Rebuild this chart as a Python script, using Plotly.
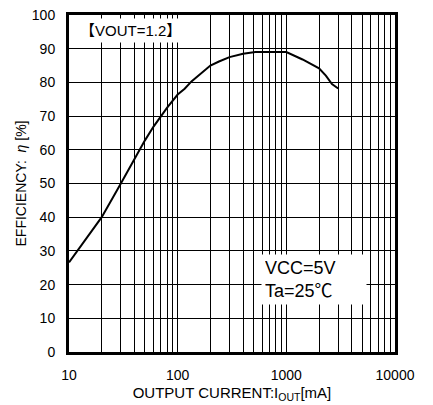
import plotly.graph_objects as go

# Data
current_ma = [10, 20, 30, 40, 50, 60, 70, 80, 100, 116, 134, 200, 240, 300, 400, 520,
              1000, 1410, 2000, 2310, 2630, 3000]
efficiency = [26.6, 40, 50, 57.4, 62.8, 66.9, 70, 72.5, 76.4, 78.1, 80.3, 85, 86.2, 87.5,
              88.5, 89, 89, 86.8, 84.2, 82, 79.5, 78.2]

decades = [10, 100, 1000, 10000]
y_ticks = list(range(0, 101, 10))

x_tickvals = []
x_ticktext = []
for d in decades[:-1]:
    for m in range(1, 10):
        v = d * m
        x_tickvals.append(v)
        x_ticktext.append(str(v) if m == 1 else "")
x_tickvals.append(decades[-1])
x_ticktext.append(str(decades[-1]))

FONT = "Liberation Sans, Arial, Noto Sans CJK JP, sans-serif"

fig = go.Figure()
fig.add_trace(go.Scatter(
    x=current_ma, y=efficiency, mode="lines",
    line=dict(color="black", width=2),
    showlegend=False, hoverinfo="skip",
))

fig.update_layout(
    width=433, height=405,
    margin=dict(l=69, r=38, t=15, b=53, autoexpand=False),
    paper_bgcolor="white", plot_bgcolor="white",
    font=dict(family=FONT, color="black", size=14),
    xaxis=dict(
        type="log", range=[1, 4], automargin=False,
        tickvals=x_tickvals, ticktext=x_ticktext, tickangle=0,
        showgrid=True, gridcolor="black", gridwidth=1,
        showline=True, linecolor="black", linewidth=3, mirror=True,
        ticks="", ticklabelstandoff=8,
        tickfont=dict(size=14, color="black"),
        zeroline=False,
        title=dict(text="OUTPUT CURRENT:I<sub>OUT</sub>[mA]",
                   font=dict(size=15, color="black"), standoff=6),
    ),
    yaxis=dict(
        range=[0, 100], tickvals=y_ticks, automargin=False,
        showgrid=True, gridcolor="black", gridwidth=1,
        showline=True, linecolor="black", linewidth=3, mirror=True,
        ticks="", ticklabelstandoff=8,
        tickfont=dict(size=14, color="black"),
        zeroline=False,
        title=dict(text="EFFICIENCY:  <i>η</i> [%]",
                   font=dict(size=14, color="black"), standoff=2),
    ),
    annotations=[
        dict(
            text="【VOUT=1.2】", xref="paper", yref="paper",
            x=0.02, y=0.955, xanchor="left", yanchor="middle",
            showarrow=False, bgcolor="white", font=dict(size=15, color="black"),
            borderpad=3,
        ),
        dict(
            text="VCC=5V<br>Ta=25℃", xref="paper", yref="paper",
            x=0.59, y=0.214, xanchor="left", yanchor="middle",
            align="left", width=98,
            showarrow=False, bgcolor="white", font=dict(size=18, color="black"),
            borderpad=3,
        ),
    ],
)

fig.write_html("out.html")
